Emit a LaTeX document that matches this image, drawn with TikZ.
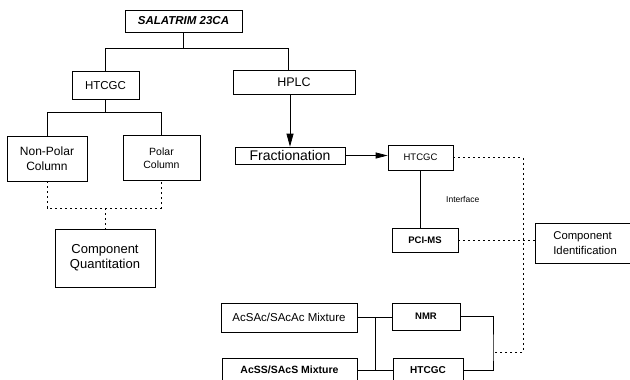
\documentclass[tikz,border=0pt]{standalone}
\usepackage{fontspec}
\setmainfont{Liberation Sans}
\usetikzlibrary{arrows.meta}

\begin{document}
\begin{tikzpicture}[x=1pt, y=-1pt,
    box/.style={rectangle, draw, line width=0.7pt, inner sep=0pt, align=center},
    link/.style={line width=0.7pt},
    dotlink/.style={line width=0.7pt, dash pattern=on 2pt off 3pt},
    every node/.style={font=\fontsize{11}{12}\selectfont}
]
    \useasboundingbox (0,0) rectangle (630,380);
    \clip (0,0) rectangle (630,380);

    % Sample
    \node[box, minimum width=117pt, minimum height=22pt, font=\bfseries\itshape\fontsize{11.5}{12}\selectfont] (sal) at (183.5,21) {SALATRIM 23CA};

    % Separation
    \node[box, minimum width=67pt, minimum height=28pt, font=\fontsize{11.5}{12}\selectfont] (htcgcA) at (105.5,85.5) {HTCGC};
    \node[box, minimum width=122pt, minimum height=24pt, font=\fontsize{12.5}{14}\selectfont] (hplc) at (294,82) {HPLC};

    % Columns
    \node[box, minimum width=80pt, minimum height=45pt, font=\fontsize{12}{15}\selectfont] (nonpolar) at (47,158.5) {Non-Polar\\Column};
    \node[box, minimum width=77pt, minimum height=45pt, font=\fontsize{10.5}{13}\selectfont] (polar) at (161.5,158) {Polar\\Column};
    \node[box, minimum width=100pt, minimum height=58pt, font=\fontsize{13}{15}\selectfont] (quant) at (105,258) {Component\\Quantitation};

    % Fractionation branch
    \node[box, minimum width=110pt, minimum height=17pt, font=\fontsize{14}{15}\selectfont] (frac) at (290,155.5) {Fractionation};
    \node[box, minimum width=65pt, minimum height=25pt, font=\fontsize{9.5}{11}\selectfont] (htcgcB) at (420.5,157.5) {HTCGC};
    \node[box, minimum width=66pt, minimum height=24pt, font=\bfseries\fontsize{9.5}{12}\selectfont] (pcims) at (425,240) {PCI-MS};
    \node[box, anchor=west, text width=92pt, align=left, inner xsep=18pt, minimum height=40pt, font=\fontsize{11.3}{15}\selectfont] (ident) at (535,243) {Component\\Identification};

    % Mixtures
    \node[box, minimum width=136pt, minimum height=29pt, font=\fontsize{11.5}{12}\selectfont] (acsac) at (289,317.5) {AcSAc/SAcAc Mixture};
    \node[box, minimum width=68pt, minimum height=27pt, font=\bfseries\fontsize{9.5}{12}\selectfont] (nmr) at (426,316.5) {NMR};
    \node[box, minimum width=135pt, minimum height=24pt, font=\bfseries\fontsize{10.5}{12}\selectfont] (acss) at (289.5,370) {AcSS/SAcS Mixture};
    \node[box, minimum width=70pt, minimum height=24pt, font=\bfseries\fontsize{10}{12}\selectfont] (htcgcC) at (428,370) {HTCGC};

    % Connectors
    \coordinate (split) at (288,48);
    \draw[link] (sal) -- (sal.south |- split);
    \draw[link] (htcgcA.north) |- (split) -- (split |- hplc.north);

    \coordinate (colbar) at (47,112);
    \draw[link] (htcgcA.south) -- (htcgcA.south |- colbar);
    \draw[link] (nonpolar.north) -- (colbar) -| (polar.north);

    \coordinate (quantbar) at (105,208);
    \draw[dotlink] (nonpolar.south) |- (quantbar) -| (polar.south);
    \draw[dotlink] (quantbar) -- (quant.north);

    \draw[link, -{Triangle[width=7pt,length=13pt]}] (frac.north |- hplc.south) -- (frac.north);
    \draw[link, -{Triangle[width=6pt,length=12pt]}] (frac.east) -- (frac.east -| htcgcB.west);
    \draw[link] (htcgcB.south) -- node[right=22pt, font=\fontsize{8.5}{9}\selectfont] {Interface} (htcgcB.south |- pcims.north);

    % Identification
    \coordinate (idbus) at (523,352);
    \coordinate (nmrtap) at (493,352);
    \draw[dotlink] (htcgcB.east) -| (idbus) -- (nmrtap);
    \draw[dotlink] (pcims.east) -- (pcims.east -| ident.west);
    \draw[link] (nmr.east) -| (nmrtap) |- (htcgcC.east);

    \coordinate (mixtap) at (375,317.5);
    \draw[link] (acsac.east) -- (acsac.east -| nmr.west);
    \draw[link] (acss.east) -- (htcgcC.west);
    \draw[link] (mixtap) -- (mixtap |- acss.east);

\end{tikzpicture}
\end{document}
